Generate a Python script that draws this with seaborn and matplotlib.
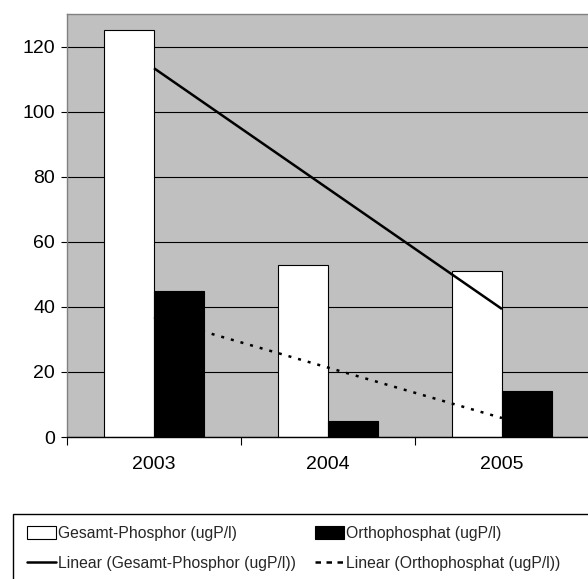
import numpy as np
import pandas as pd
import matplotlib
matplotlib.use("Agg")
import matplotlib.pyplot as plt
import seaborn as sns
from matplotlib.patches import Patch, Rectangle
from matplotlib.lines import Line2D

# Measured phosphorus concentrations per year
years = ["2003", "2004", "2005"]
gesamt = [125, 53, 51]
ortho = [45, 5, 14]
series_names = ["Gesamt-Phosphor (ugP/l)", "Orthophosphat (ugP/l)"]
y_ticks = [0, 20, 40, 60, 80, 100, 120]

sns.set_theme(style="white")
plt.rcParams["font.family"] = ["Liberation Sans Narrow", "Liberation Sans", "DejaVu Sans"]

W, H = 588, 579
fig = plt.figure(figsize=(W / 100, H / 100), dpi=100)
ax = fig.add_axes([67 / W, 1 - 437 / H, 522 / W, 423 / H])
ax.set_facecolor("#C0C0C0")

df = pd.DataFrame({
    "Jahr": years * 2,
    "Wert": gesamt + ortho,
    "Reihe": [series_names[0]] * len(years) + [series_names[1]] * len(years),
})
sns.barplot(data=df, x="Jahr", y="Wert", hue="Reihe", order=years,
            hue_order=series_names,
            palette={series_names[0]: "white", series_names[1]: "black"},
            saturation=1, width=0.57, errorbar=None, edgecolor="black",
            linewidth=0.8, legend=False, ax=ax, zorder=2)

# Linear trend lines through the yearly values
dotted = (0, (1.2, 2.8))
xpos = np.arange(len(years))
for vals, ls in [(gesamt, "-"), (ortho, dotted)]:
    sns.regplot(x=xpos, y=np.asarray(vals, dtype=float), scatter=False, ci=None,
                truncate=True, ax=ax,
                line_kws=dict(color="black", lw=1.8, linestyle=ls, zorder=3,
                              solid_capstyle="butt", dash_capstyle="butt"))

ax.set_xlim(-0.5, 2.5)
ax.set_ylim(0, 130)
ax.set_yticks(y_ticks)
ax.yaxis.grid(True, color="black", lw=0.8)
ax.xaxis.grid(False)
ax.set_axisbelow(True)

ax.set_xticks([-0.5, 0.5, 1.5, 2.5])
ax.set_xticklabels([])
ax.set_xticks(xpos, minor=True)
ax.set_xticklabels(years, minor=True)
ax.tick_params(axis="x", which="major", direction="out", length=6, width=0.8,
               color="black", bottom=True)
ax.tick_params(axis="x", which="minor", length=0, pad=13.5, labelsize=14,
               bottom=True, labelcolor="black")
ax.tick_params(axis="y", direction="out", length=4.3, width=0.8, color="black",
               left=True, pad=4.3, labelsize=14, labelcolor="black")
ax.set_xlabel("")
ax.set_ylabel("")

for s in ["top", "left"]:
    ax.spines[s].set_color("#808080")
    ax.spines[s].set_linewidth(1.0)
ax.spines["bottom"].set_color("black")
ax.spines["bottom"].set_linewidth(1.0)
ax.spines["right"].set_visible(False)

# Legend frame and two legend columns
fig.patches.append(Rectangle((13 / W, -0.02), 1.1, 1 - 514 / H + 0.02,
                             transform=fig.transFigure, fill=False,
                             edgecolor="black", lw=1.0))

leg_kw = dict(loc="upper left", frameon=False, fontsize=11.3, handlelength=1.85,
              handleheight=0.9, handletextpad=0.1, labelspacing=0.94,
              borderpad=0, borderaxespad=0)
h1 = [Patch(facecolor="white", edgecolor="black", lw=0.8),
      Line2D([], [], color="black", lw=1.8)]
l1 = [series_names[0], "Linear (" + series_names[0] + ")"]
h2 = [Patch(facecolor="black", edgecolor="black", lw=0.8),
      Line2D([], [], color="black", lw=1.8, linestyle=(0, (2.2, 2.2)))]
l2 = [series_names[1], "Linear (" + series_names[1] + ")"]
fig.legend(h1, l1, bbox_to_anchor=(27 / W, 1 - 526 / H), **leg_kw)
fig.legend(h2, l2, bbox_to_anchor=(315 / W, 1 - 526 / H), **leg_kw)

fig.savefig("out.png", dpi=100)
